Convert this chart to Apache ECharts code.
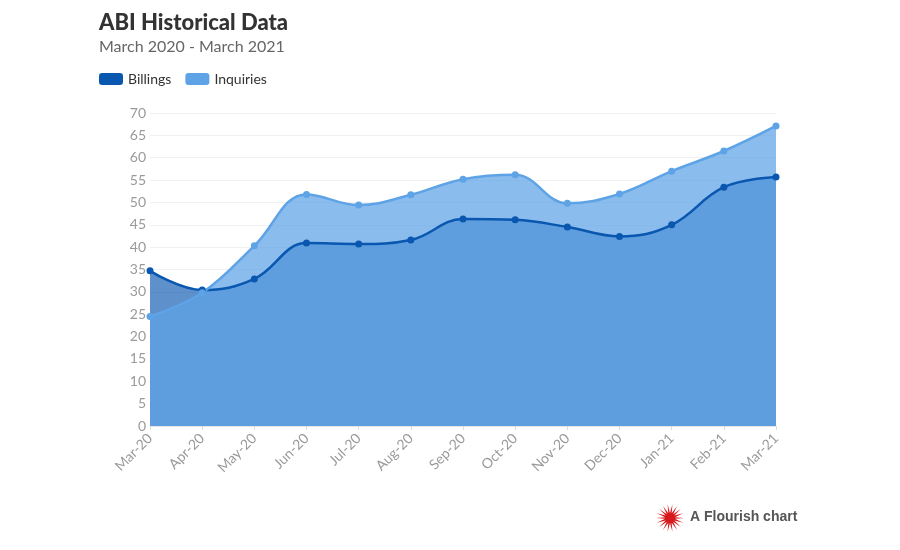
<!DOCTYPE html>
<html>
<head>
<meta charset="utf-8">
<title>ABI Historical Data</title>
<script src="https://cdn.jsdelivr.net/npm/echarts@6/dist/echarts.min.js"></script>
<style>
  html, body { margin: 0; padding: 0; background: #fff; }
  #chart { width: 900px; height: 550px; }
</style>
</head>
<body>
<div id="chart"></div>
<script>
const months = ['Mar-20', 'Apr-20', 'May-20', 'Jun-20', 'Jul-20', 'Aug-20', 'Sep-20',
  'Oct-20', 'Nov-20', 'Dec-20', 'Jan-21', 'Feb-21', 'Mar-21'];
const billings = [34.7, 30.4, 32.9, 40.9, 40.7, 41.6, 46.3, 46.1, 44.5, 42.4, 45.0, 53.4, 55.7];
const inquiries = [24.5, 29.8, 40.3, 51.8, 49.4, 51.7, 55.2, 56.2, 49.8, 51.9, 57.0, 61.5, 67.1];

const billingsColor = '#0a57b0';
const inquiriesColor = '#5ea3e6';
const font = 'Lato, "Open Sans", sans-serif';

const chart = echarts.init(document.getElementById('chart'));

// areas drawn first, lines on top so both lines stay crisp
function areaSeries(name, data, color, opacity) {
  return {
    name,
    type: 'line',
    data,
    smooth: 0.4,
    symbol: 'none',
    lineStyle: { width: 0 },
    areaStyle: { color, opacity },
    z: 1,
    silent: true
  };
}

function lineSeries(name, data, color) {
  return {
    name,
    type: 'line',
    data,
    smooth: 0.4,
    symbol: 'circle',
    symbolSize: 7,
    itemStyle: { color },
    lineStyle: { color, width: 2.5 },
    z: 3
  };
}

// flourish logo burst (decoration only)
function burstPoints(cx, cy, rOut, rIn, n) {
  const pts = [];
  for (let i = 0; i < n * 2; i++) {
    const r = i % 2 === 0 ? rOut : rIn;
    const a = (Math.PI * i) / n;
    pts.push([cx + r * Math.cos(a), cy + r * Math.sin(a)]);
  }
  return pts;
}

chart.setOption({
  backgroundColor: '#fff',
  animation: false,
  title: {
    text: 'ABI Historical Data',
    subtext: 'March 2020 - March 2021',
    left: 94,
    top: 7,
    itemGap: 5,
    textStyle: { fontFamily: font, fontSize: 22, fontWeight: 900, color: '#333' },
    subtextStyle: { fontFamily: font, fontSize: 16, color: '#666' }
  },
  legend: {
    left: 94,
    top: 67,
    icon: 'roundRect',
    itemWidth: 24,
    itemHeight: 12,
    itemGap: 14,
    textStyle: { fontFamily: font, fontSize: 14, color: '#333' },
    data: [
      { name: 'Billings', itemStyle: { color: billingsColor } },
      { name: 'Inquiries', itemStyle: { color: inquiriesColor } }
    ]
  },
  grid: { left: 150, right: 124, top: 113, bottom: 124 },
  xAxis: {
    type: 'category',
    data: months,
    boundaryGap: false,
    axisLine: { lineStyle: { color: '#e6e6e6' } },
    axisTick: { show: true, length: 4, lineStyle: { color: '#ddd' } },
    axisLabel: { rotate: 45, color: '#9a9a9a', fontFamily: font, fontSize: 14, margin: 10 }
  },
  yAxis: {
    type: 'value',
    min: 0,
    max: 70,
    interval: 5,
    axisLine: { show: false },
    axisTick: { show: false },
    axisLabel: { color: '#9a9a9a', fontFamily: font, fontSize: 14, margin: 4 },
    splitLine: { lineStyle: { color: '#f0f0f0' } }
  },
  series: [
    areaSeries('Billings', billings, billingsColor, 0.66),
    areaSeries('Inquiries', inquiries, inquiriesColor, 0.73),
    lineSeries('Billings', billings, billingsColor),
    lineSeries('Inquiries', inquiries, inquiriesColor)
  ],
  graphic: [
    {
      type: 'polygon',
      shape: { points: burstPoints(670, 518, 14, 5, 18) },
      style: { fill: '#d7191c' }
    },
    {
      type: 'text',
      left: 690,
      top: 510,
      style: { text: 'A Flourish chart', fill: '#555', fontSize: 14, fontWeight: 'bold', fontFamily: '"Liberation Sans", Arial, sans-serif' }
    }
  ]
});
</script>
</body>
</html>
